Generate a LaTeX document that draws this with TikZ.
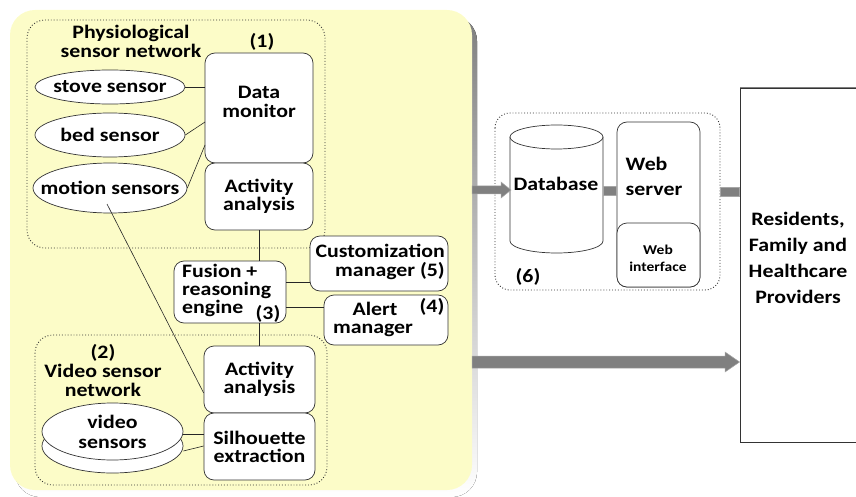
\documentclass[tikz,border=0pt]{standalone}
\usepackage{fontspec}
\setmainfont{Carlito}[FakeStretch=1.15]
\usetikzlibrary{arrows.meta,calc,shapes.geometric}
\definecolor{panel}{RGB}{252,252,200}
\definecolor{shade}{RGB}{190,190,190}
\definecolor{bar}{RGB}{128,128,128}
\tikzset{
  lbl/.style={font=\bfseries\fontsize{19}{20}\selectfont, inner sep=0pt},
  small/.style={font=\bfseries\fontsize{13.5}{14}\selectfont, inner sep=0pt},
  rbox/.style={draw=black!80, fill=white, rounded corners=10pt, line width=0.7pt},
  ebox/.style={draw=black!80, fill=white, line width=0.7pt},
  grp/.style={draw=black!80, dotted, line width=0.9pt, rounded corners=18pt},
  wire/.style={draw=black!85, line width=0.6pt},
  gbar/.style={draw=bar!70, fill=bar, line width=0.5pt},
}
\begin{document}
\begin{tikzpicture}[x=1pt,y=-1pt]
\useasboundingbox (0,0) rectangle (856,497);
% main panel
\fill[shade, rounded corners=25pt] (15,16) rectangle (477,497);
\node[fill=panel, rounded corners=25pt, minimum width=462pt, minimum height=480pt, inner sep=0pt] (panel) at (241,250) {};
% groups
\draw[grp] (27,20) rectangle (325,248);
\draw[grp] (35,335) rectangle (327,485);
% physiological group
\node[lbl, align=center] (physlbl) at (131,41) {Physiological\\[-1pt]sensor network};
\node[lbl] (one) at (262,42) {(1)};
\draw[rbox] (205,53) rectangle (313,163);
\node[lbl, align=center] (dmtext) at (259,102) {Data\\[-1pt]monitor};
\coordinate (dmW) at (205,108);
\node[rbox, minimum width=108pt, minimum height=67pt, inner sep=0pt] (aa1) at (259,196.5) {};
\node[lbl, align=center] at (aa1) {Activity\\[-2pt]analysis};
\node[ebox, ellipse, minimum width=150pt, minimum height=34pt, inner sep=0pt] (stove) at (110,87) {};
\node[lbl] at (stove) {stove sensor};
\node[ebox, ellipse, minimum width=150pt, minimum height=44pt, inner sep=0pt] (bed) at (110,135) {};
\node[lbl] at (bed) {bed sensor};
\node[ebox, ellipse, minimum width=154pt, minimum height=50pt, inner sep=0pt] (motion) at (110,188) {};
\node[lbl] at (motion) {motion sensors};
% fusion etc
\node[rbox, minimum width=112pt, minimum height=62pt, inner sep=0pt] (fusion) at (230,292) {};
\node[lbl, align=left, anchor=north west] at (182,264) {Fusion +\\[-2pt]reasoning\\[-2pt]engine};
\node[lbl] (three) at (268,314) {(3)};
\node[rbox, minimum width=138pt, minimum height=55pt, inner sep=0pt] (cust) at (379,263.5) {};
\node[lbl, align=right, anchor=east] at (445,262) {Customization\\[-1pt]manager (5)};
\node[rbox, minimum width=124pt, minimum height=50pt, inner sep=0pt] (alert) at (386,320) {};
\node[lbl] (alertA) at (375,309) {Alert};
\node[lbl] (four) at (432,307) {(4)};
\node[lbl] (alertB) at (373,330) {manager};
% video group
\node[lbl, align=center] (vidlbl) at (103,371) {(2)\\[-1pt]Video sensor\\[-1pt]network};
\node[rbox, minimum width=111pt, minimum height=67pt, inner sep=0pt] (vaa) at (259.5,379.5) {};
\node[lbl, align=center] at (vaa) {Activity\\[-2pt]analysis};
\node[rbox, minimum width=111pt, minimum height=67pt, inner sep=0pt] (sil) at (259.5,446.5) {};
\node[lbl, align=center] at (sil) {Silhouette\\[-2pt]extraction};
\node[ebox, ellipse, minimum width=141pt, minimum height=54pt, inner sep=0pt] (vs2) at (112.5,446) {};
\node[ebox, ellipse, minimum width=141pt, minimum height=57pt, inner sep=0pt] (vs1) at (112.5,431.5) {};
\node[lbl, align=center] at (vs1) {video\\[0pt]sensors};
% wires
\draw[wire] (stove.east) -- (stove.east -| dmW);
\draw[wire] (bed.east) -- (dmW |- {(0,122)});
\draw[wire] (motion.east) -- (dmW |- {(0,145)});
\coordinate (mstart) at (107,204);
\draw[wire] (mstart) -- (vaa.west |- {(0,393)});
\draw[wire] (aa1.south) -- (aa1.south |- fusion.north);
\draw[wire] (fusion.south -| vaa.north) -- (vaa.north);
\draw[wire] (fusion.east |- {(0,282)}) -- (cust.west |- {(0,282)});
\draw[wire] (fusion.east |- {(0,307)}) -- (alert.west |- {(0,307)});
\draw[wire] (vs1.east |- {(0,434)}) -- (sil.west |- {(0,434)});
\draw[wire] (vs2.east |- {(0,451)}) -- (sil.west |- {(0,446)});
% right side
\draw[grp, rounded corners=15pt] (495,113) rectangle (720,290);
\draw[ebox] (510,137) -- (510,241) arc[start angle=180, end angle=0, x radius=46.5, y radius=12] -- (603,137);
\draw[ebox] (556.5,137) ellipse[x radius=46.5, y radius=12];
\node[inner sep=0pt, minimum width=93pt, minimum height=128pt] (db) at (556.5,189) {};
\node[lbl] (dbtext) at (556,184) {Database};
\node[rbox, minimum width=83pt, minimum height=165pt, inner sep=0pt] (web) at (658.5,204.5) {};
\node[lbl, align=left] (webtext) at (654,176) {Web\\[5pt]server};
\node[rbox, minimum width=83pt, minimum height=64pt, inner sep=0pt] (wif) at (658.5,255) {};
\node[small, align=center] at (658,258) {Web\\[3pt]interface};
\node[lbl] (six) at (528,277) {(6)};
% residents
\fill[shade] (740,88) rectangle (870,447);
\node[draw=black!80, fill=white, line width=0.8pt, minimum width=130pt, minimum height=354pt, inner sep=0pt] (res) at (805,265) {};
\node[lbl, align=center] at (798,258) {Residents,\\[6pt]Family and\\[6pt]Healthcare\\[6pt]Providers};
% arrows
\draw[gbar] (panel.east |- {(0,186)}) -- (501,186) -- (501,182) -- (511,190) -- (501,198) -- (501,194) -- (panel.east |- {(0,194)}) -- cycle;
\draw[gbar] (db.east |- {(0,186)}) rectangle (web.west |- {(0,195)});
\draw[gbar] (720,187) rectangle (res.west |- {(0,196)});
\draw[gbar] (panel.east |- {(0,356)}) -- (725,356) -- (725,352) -- (res.west |- {(0,362)}) -- (725,372) -- (725,368) -- (panel.east |- {(0,368)}) -- cycle;
\end{tikzpicture}
\end{document}
